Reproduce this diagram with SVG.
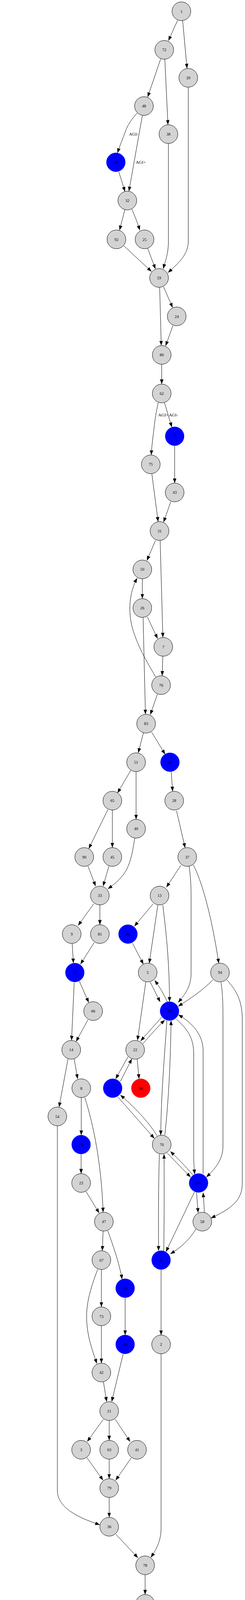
<svg xmlns="http://www.w3.org/2000/svg" width="628" height="6533" viewBox="0 0 628 6533">
<style>
.n circle{fill:#d3d3d3;stroke:#000;stroke-width:1}
.b circle{fill:#0000ff;stroke:#0000ff;stroke-width:1}
.r circle{fill:#ff0000;stroke:#ff0000;stroke-width:1}
text{font-family:"Liberation Serif","Times New Roman",serif;font-size:10.5px;text-anchor:middle;fill:#000}
.lbl{font-size:11px}
.e path{fill:none;stroke:#000;stroke-width:1;marker-end:url(#a)}
</style>
<defs>
<marker id="a" viewBox="0 0 12 9" refX="12" refY="4.5" markerWidth="12" markerHeight="9" markerUnits="userSpaceOnUse" orient="auto"><path d="M0,0L12,4.5L0,9z" fill="#000"/></marker>
</defs>
<rect width="628" height="6533" fill="#fff"/>
<g id="connectors" class="e">
<path d="M455.3,52.1 C447,70 440,86 431.7,104.3"/>
<path d="M468.2,52.8 L479.4,175.2"/>
<path d="M411.7,151.2 L378.5,248.5"/>
<path d="M422.5,151.9 L430.5,319.4"/>
<path d="M351.2,289.5 C338,305 328,318 322,335 C315,355 307,372 301.2,391.7"/>
<path d="M364.8,296.1 L330.4,489.8"/>
<path d="M304.4,439.7 L320.4,490.3"/>
<path d="M320,536.5 L306.4,589.5"/>
<path d="M338,535.5 C344,550 352,568 358.4,589.5"/>
<path d="M482.6,223.2 L482.6,618 C482.6,650 460,672 430.5,697.9"/>
<path d="M431.7,367.4 L431.7,618 C431.7,650 423,670 418.5,688"/>
<path d="M317.6,629.5 L388.5,695.2"/>
<path d="M378.5,636 L398.5,688.5"/>
<path d="M409.3,735.5 L413.3,884.6"/>
<path d="M419.3,734.4 L442.5,787.6"/>
<path d="M443.3,833.5 L424.5,885.5"/>
<path d="M414.5,932.6 L414.5,983.3"/>
<path d="M405.7,1031 C400,1055 397,1075 395,1095 C392,1120 389,1140 387.7,1164.7"/>
<path d="M421.7,1031 L440.5,1093.5"/>
<path d="M447.7,1140.8 L447.7,1236.7"/>
<path d="M389.3,1213.4 L405.3,1335.6"/>
<path d="M437.7,1284.6 L419.3,1336.8"/>
<path d="M398.5,1383.7 L376.5,1435"/>
<path d="M410.5,1383.7 L417.5,1631.9"/>
<path d="M364.8,1481.7 L364.8,1532.5"/>
<path d="M377.7,1579.4 L404,1635"/>
<path d="M366.8,1580.8 L372.8,1828.6"/>
<path d="M399.3,1733.4 C380,1700 355,1660 340,1610 C327,1565 332,1515 351.6,1480"/>
<path d="M417.3,1679.8 L415.7,1729.9"/>
<path d="M403.3,1777.5 L385.3,1829.6"/>
<path d="M367.6,1875.9 L354.4,1927.3"/>
<path d="M388.5,1874.1 L423.3,1931.1"/>
<path d="M335.2,1972.2 L301.2,2030.2"/>
<path d="M348.8,1975.3 L348.8,2097.6"/>
<path d="M438.9,1976.3 L442.5,2025.9"/>
<path d="M276.3,2073 L227.5,2172.5"/>
<path d="M288,2073.7 L288,2169.9"/>
<path d="M345.2,2146 C341,2175 336,2203 325,2225 C314,2246 296,2262 276.3,2275.6"/>
<path d="M452.5,2075.7 L474.5,2170.5"/>
<path d="M225.5,2217.5 L245.1,2268.6"/>
<path d="M279.1,2217.5 L264.3,2268.6"/>
<path d="M463.8,2214.8 L426.5,2271.5"/>
<path d="M484.6,2217.5 C488,2240 489.8,2260 489.8,2300 L489.8,2492 C489.8,2525 475,2545 456.5,2566.5"/>
<path d="M495.4,2214 C520,2260 545,2360 560.7,2466.3"/>
<path d="M240.3,2313.8 L200.2,2369.4"/>
<path d="M256,2316.6 L256,2367.3"/>
<path d="M392.5,2313.8 L344.4,2371.2"/>
<path d="M404.5,2317.3 L382.5,2466.2"/>
<path d="M417.3,2317.3 C428,2400 434.5,2480 434.5,2564.4"/>
<path d="M185,2415.7 L188.2,2465.8"/>
<path d="M241.5,2412.9 L206.2,2468.5"/>
<path d="M339.6,2414.6 L367.6,2468.5"/>
<path d="M203.4,2512 L227.5,2566.5"/>
<path d="M190.2,2515.4 L183.4,2663.5"/>
<path d="M225.1,2611 L195,2666.6"/>
<path d="M385.3,2514.4 L410.5,2565.1"/>
<path d="M429.3,2565.8 C420,2545 410,2528 396.5,2509.5"/>
<path d="M373.6,2514.4 L352.4,2663.3"/>
<path d="M545.5,2508.5 C520,2535 490,2555 456.5,2576.3"/>
<path d="M414.5,2604 L360.4,2664.9"/>
<path d="M366.4,2671.8 C385,2650 405,2628 422.5,2611"/>
<path d="M427.7,2612.7 C422,2700 413,2800 412,2906.1"/>
<path d="M422.5,2905.7 C432,2820 437,2720 438.5,2612.5"/>
<path d="M452.5,2609.3 C480,2635 496.6,2655 496.6,2700 L496.6,2960 C496.6,2980 498,2995 499,3006"/>
<path d="M520.6,3004.8 L520.6,2690 C520.6,2650 495,2620 457,2597.5"/>
<path d="M566.7,2515.4 C570,2540 571.5,2560 571.5,2600 L571.5,2935 C571.5,2965 555,2990 528.6,3013.5"/>
<path d="M581.5,2508.5 C605,2535 621,2560 621,2610 L621,3030 C621,3075 590,3095 540.6,3118.5"/>
<path d="M174.2,2711.3 L151.4,2834.3"/>
<path d="M190.2,2711.3 L199,2762"/>
<path d="M328.4,2705 L296.4,2762"/>
<path d="M308.4,2768.4 C318,2750 328,2730 338,2710.5"/>
<path d="M351.6,2711.4 L356.4,2762"/>
<path d="M302.4,2808.4 L395.7,2914.4"/>
<path d="M402.5,2907.5 C380,2870 340,2830 308.4,2803.2"/>
<path d="M428.5,2951.6 L488.6,3013.5"/>
<path d="M494.6,3008.3 C475,2985 455,2965 436.5,2947.5"/>
<path d="M408.5,2954.4 C406,3040 406,3120 406.5,3202"/>
<path d="M419.7,3203 C421,3120 421,3040 420.5,2954.4"/>
<path d="M503.8,3052.5 L507.8,3104.6"/>
<path d="M523.8,3104.6 C523,3085 522,3070 520.6,3053"/>
<path d="M498.6,3051 L425.3,3204.7"/>
<path d="M502.6,3145.6 C485,3175 462,3195 436.5,3209.9"/>
<path d="M208.3,2809.8 L208.3,2906.1"/>
<path d="M217.5,2810.2 C240,2880 260,2980 264.3,3103.5"/>
<path d="M207.9,2954.1 L207.9,3004.4"/>
<path d="M220.3,3050 L254.3,3105.6"/>
<path d="M264.3,3151.5 L262.3,3201.9"/>
<path d="M276.3,3150.8 C290,3190 305,3230 313,3275"/>
<path d="M259.9,3249.9 L259.9,3345.8"/>
<path d="M250.3,3249.9 C235,3290 222,3330 222,3370 C222,3420 238,3460 248.3,3490.7"/>
<path d="M320.8,3321.8 L320.8,3417.7"/>
<path d="M259.9,3393.8 L259.9,3489.7"/>
<path d="M315.6,3466.4 L286.3,3588.3"/>
<path d="M265.1,3537.5 L273.5,3588.4"/>
<path d="M412.9,3249.9 L412.9,3417.7"/>
<path d="M265.1,3633.2 L223.5,3690.6"/>
<path d="M279.9,3636.4 L279.9,3687.4"/>
<path d="M295.2,3633.2 L333.6,3690.6"/>
<path d="M222.7,3731.6 L264.3,3789.6"/>
<path d="M279.9,3735.4 L279.9,3785.5"/>
<path d="M336.4,3732.3 L296.4,3789.6"/>
<path d="M147,2882.1 L147,3815 C147,3860 200,3885 256,3903.5"/>
<path d="M279.9,3833.5 L279.9,3884.5"/>
<path d="M412.9,3465.7 L412.9,3912 C412.9,3945 400,3968 386.5,3987"/>
<path d="M297.2,3928 L353.6,3988.1"/>
<path d="M372,4031.2 L372,4081.9"/>
<path d="M361.2,4129.6 L340.4,4181.7"/>
<path d="M375.3,4130 C377,4190 375,4240 358.4,4282.5"/>
<path d="M314.4,4227.9 L285.1,4281.4"/>
<path d="M323.6,4228.6 L330.4,4280.5"/>
<path d="M346.4,4280 C345,4262 343,4245 340.4,4228"/>
<path d="M258.3,4326.6 L232.3,4379.6"/>
<path d="M274.7,4327.7 C279,4360 280.3,4380 280.3,4420 L280.3,4890 C280.3,4930 255,4958 226.3,4980.8"/>
<path d="M342.4,4327.7 L342.4,5455.5"/>
<path d="M208.3,4424.3 C200,4445 190,4462 182.2,4480"/>
<path d="M223.5,4426 C228,4450 230.3,4470 230.3,4500 L230.3,4905 C230.3,4930 224,4950 216.3,4970"/>
<path d="M169,4524.8 L169,4575.5"/>
<path d="M169,4623.5 L169,4673.5"/>
<path d="M157.4,4721.5 C150,4740 140,4758 130.2,4775.4"/>
<path d="M172.2,4722.2 C180,4800 192,4900 201,4970"/>
<path d="M118.5,4820.6 L118.5,4871.3"/>
<path d="M135.4,4914.7 L189,4975.5"/>
<path d="M187.4,5012.8 C165,5035 145,5055 124.1,5074.6"/>
<path d="M209,5018 L226.3,5140.6"/>
<path d="M90.1,5113.5 C78,5135 68,5155 60,5175 C52,5192 46,5203 40,5213.7"/>
<path d="M99.3,5117 L68.9,5285.2"/>
<path d="M114.1,5117 L143.4,5213.7"/>
<path d="M143,5259.5 L112.9,5357.9"/>
<path d="M156.2,5261.3 L171.4,5357"/>
<path d="M61.3,5333.2 C61,5375 62,5400 75,5420 C85,5438 98,5452 111.3,5463.2"/>
<path d="M112.1,5405.5 L125,5456"/>
<path d="M165,5403.8 L139.4,5455.8"/>
<path d="M233.5,5189.3 C237,5260 238.7,5320 238.7,5400 L238.7,5480 C238.7,5515 210,5545 172.5,5567"/>
<path d="M134.6,5503.9 L144.2,5554.4"/>
<path d="M143,5602.9 C138,5620 134,5640 131.4,5663.8"/>
<path d="M159,5601.2 C168,5620 178,5643 186.2,5665.5"/>
<path d="M336.4,5503.9 L327.6,5554.3"/>
<path d="M351.2,5502.8 C365,5560 372,5610 370,5660 C367,5710 340,5745 304.4,5772.6"/>
<path d="M308.8,5600.2 C295,5635 285,5660 283,5690 C281,5715 281.3,5740 281.5,5762"/>
<path d="M320.8,5601.9 L320.8,5663.7"/>
<path d="M312.4,5711.4 L295.6,5762.8"/>
<path d="M215.5,5706.5 L267.5,5767"/>
<path d="M284,5809.8 L284,5860.5"/>
<path d="M284,5908.5 L284,5958.8"/>
<path d="M284,6006.8 L284,6057.8"/>
<path d="M292.4,6105.5 L315.6,6168.3"/>
<path d="M280.7,6106.5 C277,6160 275,6210 278,6260 C281,6310 295,6345 311.2,6379.3"/>
<path d="M323.6,6215.3 L323.6,6276.8"/>
<path d="M336.4,6214 C350,6250 362,6280 362,6310 C362,6340 350,6360 340.4,6378.7"/>
<path d="M323.6,6324.8 L323.6,6375.3"/>
<path d="M323.6,6423.3 L323.6,6475.5"/>
</g>
<g id="edge-labels">
<text class="lbl" x="342.4" y="347">AGI-</text>
<text class="lbl" x="360.8" y="419">AGI+</text>
<text class="lbl" x="418.5" y="1065.5">AGI+</text>
<text class="lbl" x="444.5" y="1065.5">AGI-</text>
<text class="lbl" x="152.6" y="5636">AGI-</text>
<text class="lbl" x="191" y="5636">AGI+</text>
<text class="lbl" x="318.4" y="6140.5">AGI-</text>
<text class="lbl" x="292" y="6249.5">AGI+</text>
</g>
<g id="n1" class="n"><circle cx="465" cy="28.8" r="24"/><text x="465" y="32.5">1</text></g>
<g id="n72" class="n"><circle cx="421" cy="127.6" r="24"/><text x="421" y="131.3">72</text></g>
<g id="n39" class="n"><circle cx="482.6" cy="199.2" r="24"/><text x="482.6" y="202.9">39</text></g>
<g id="n48" class="n"><circle cx="369" cy="271.5" r="24"/><text x="369" y="275.2">48</text></g>
<g id="n38" class="n"><circle cx="431.7" cy="343.4" r="24"/><text x="431.7" y="347.1">38</text></g>
<g id="n18" class="b"><circle cx="297" cy="415.4" r="24"/><text x="297" y="419.1">18</text></g>
<g id="n32" class="n"><circle cx="326.4" cy="513.4" r="24"/><text x="326.4" y="517.1">32</text></g>
<g id="n92" class="n"><circle cx="298.4" cy="612.8" r="24"/><text x="298.4" y="616.5">92</text></g>
<g id="n25" class="n"><circle cx="370.5" cy="612.8" r="24"/><text x="370.5" y="616.5">25</text></g>
<g id="n59" class="n"><circle cx="407.7" cy="711.5" r="24"/><text x="407.7" y="715.2">59</text></g>
<g id="n24" class="n"><circle cx="453" cy="809.9" r="24"/><text x="453" y="813.6">24</text></g>
<g id="n86" class="n"><circle cx="414.5" cy="908.6" r="24"/><text x="414.5" y="912.3">86</text></g>
<g id="n62" class="n"><circle cx="414.5" cy="1007.3" r="24"/><text x="414.5" y="1011">62</text></g>
<g id="n15" class="b"><circle cx="447.7" cy="1116.8" r="24"/><text x="447.7" y="1120.5">15</text></g>
<g id="n75" class="n"><circle cx="386.5" cy="1188.7" r="24"/><text x="386.5" y="1192.4">75</text></g>
<g id="n43" class="n"><circle cx="447.7" cy="1260.7" r="24"/><text x="447.7" y="1264.4">43</text></g>
<g id="n31" class="n"><circle cx="408.9" cy="1359.4" r="24"/><text x="408.9" y="1363.1">31</text></g>
<g id="n50" class="n"><circle cx="364.8" cy="1457.7" r="24"/><text x="364.8" y="1461.4">50</text></g>
<g id="n26" class="n"><circle cx="364.8" cy="1556.5" r="24"/><text x="364.8" y="1560.2">26</text></g>
<g id="n7" class="n"><circle cx="418.5" cy="1655.9" r="24"/><text x="418.5" y="1659.6">7</text></g>
<g id="n76" class="n"><circle cx="412.9" cy="1753.9" r="24"/><text x="412.9" y="1757.6">76</text></g>
<g id="n83" class="n"><circle cx="374.5" cy="1852.6" r="24"/><text x="374.5" y="1856.3">83</text></g>
<g id="n51" class="n"><circle cx="348.8" cy="1951.3" r="24"/><text x="348.8" y="1955">51</text></g>
<g id="n60" class="b"><circle cx="435.7" cy="1951.3" r="24"/><text x="435.7" y="1955">60</text></g>
<g id="n65" class="n"><circle cx="288" cy="2049.7" r="24"/><text x="288" y="2053.4">65</text></g>
<g id="n28" class="n"><circle cx="446.5" cy="2049.7" r="24"/><text x="446.5" y="2053.4">28</text></g>
<g id="n40" class="n"><circle cx="348.8" cy="2121.6" r="24"/><text x="348.8" y="2125.3">40</text></g>
<g id="n90" class="n"><circle cx="215.9" cy="2193.9" r="24"/><text x="215.9" y="2197.6">90</text></g>
<g id="n45" class="n"><circle cx="288" cy="2193.9" r="24"/><text x="288" y="2197.6">45</text></g>
<g id="n37" class="n"><circle cx="480" cy="2193.9" r="24"/><text x="480" y="2197.6">37</text></g>
<g id="n33" class="n"><circle cx="256" cy="2292.6" r="24"/><text x="256" y="2296.3">33</text></g>
<g id="n13" class="n"><circle cx="408.9" cy="2292.6" r="24"/><text x="408.9" y="2296.3">13</text></g>
<g id="n9" class="n"><circle cx="183.8" cy="2391.3" r="24"/><text x="183.8" y="2395">9</text></g>
<g id="n81" class="n"><circle cx="256" cy="2391.3" r="24"/><text x="256" y="2395">81</text></g>
<g id="n82" class="b"><circle cx="328" cy="2391.3" r="24"/><text x="328" y="2395">82</text></g>
<g id="n57" class="b"><circle cx="191.8" cy="2489.7" r="24"/><text x="191.8" y="2493.4">57</text></g>
<g id="n5" class="n"><circle cx="378.5" cy="2489.7" r="24"/><text x="378.5" y="2493.4">5</text></g>
<g id="n94" class="n"><circle cx="563.9" cy="2489.7" r="24"/><text x="563.9" y="2493.4">94</text></g>
<g id="n66" class="n"><circle cx="238.7" cy="2588.4" r="24"/><text x="238.7" y="2592.1">66</text></g>
<g id="n44" class="b"><circle cx="434.5" cy="2588.4" r="24"/><text x="434.5" y="2592.1">44</text></g>
<g id="n14" class="n"><circle cx="182.6" cy="2687.5" r="24"/><text x="182.6" y="2691.2">14</text></g>
<g id="n22" class="n"><circle cx="346.4" cy="2687.5" r="24"/><text x="346.4" y="2691.2">22</text></g>
<g id="n8" class="n"><circle cx="208.3" cy="2785.8" r="24"/><text x="208.3" y="2789.5">8</text></g>
<g id="n77" class="b"><circle cx="288.8" cy="2785.8" r="24"/><text x="288.8" y="2789.5">77</text></g>
<g id="n96" class="r"><circle cx="360.9" cy="2785.8" r="24"/><text x="360.9" y="2789.5">96</text></g>
<g id="n54" class="n"><circle cx="147" cy="2858.1" r="24"/><text x="147" y="2861.8">54</text></g>
<g id="n74" class="b"><circle cx="207.9" cy="2930.1" r="24"/><text x="207.9" y="2933.8">74</text></g>
<g id="n70" class="n"><circle cx="414.5" cy="2930.1" r="24"/><text x="414.5" y="2933.8">70</text></g>
<g id="n23" class="n"><circle cx="207.9" cy="3028.4" r="24"/><text x="207.9" y="3032.1">23</text></g>
<g id="n84" class="b"><circle cx="509" cy="3028.4" r="24"/><text x="509" y="3032.1">84</text></g>
<g id="n47" class="n"><circle cx="266.3" cy="3127.5" r="24"/><text x="266.3" y="3131.2">47</text></g>
<g id="n58" class="n"><circle cx="518.6" cy="3127.5" r="24"/><text x="518.6" y="3131.2">58</text></g>
<g id="n67" class="n"><circle cx="259.9" cy="3225.9" r="24"/><text x="259.9" y="3229.6">67</text></g>
<g id="n27" class="b"><circle cx="412.9" cy="3225.9" r="24"/><text x="412.9" y="3229.6">27</text></g>
<g id="n93" class="b"><circle cx="320.8" cy="3297.8" r="24"/><text x="320.8" y="3301.5">93</text></g>
<g id="n73" class="n"><circle cx="259.9" cy="3369.8" r="24"/><text x="259.9" y="3373.5">73</text></g>
<g id="n69" class="b"><circle cx="320.8" cy="3441.7" r="24"/><text x="320.8" y="3445.4">69</text></g>
<g id="n2" class="n"><circle cx="412.9" cy="3441.7" r="24"/><text x="412.9" y="3445.4">2</text></g>
<g id="n42" class="n"><circle cx="259.9" cy="3513.7" r="24"/><text x="259.9" y="3517.4">42</text></g>
<g id="n21" class="n"><circle cx="279.9" cy="3612.4" r="24"/><text x="279.9" y="3616.1">21</text></g>
<g id="n3" class="n"><circle cx="207.9" cy="3711.4" r="24"/><text x="207.9" y="3715.1">3</text></g>
<g id="n63" class="n"><circle cx="279.9" cy="3711.4" r="24"/><text x="279.9" y="3715.1">63</text></g>
<g id="n41" class="n"><circle cx="351.2" cy="3711.4" r="24"/><text x="351.2" y="3715.1">41</text></g>
<g id="n79" class="n"><circle cx="279.9" cy="3809.5" r="24"/><text x="279.9" y="3813.2">79</text></g>
<g id="n36" class="n"><circle cx="279.9" cy="3908.5" r="24"/><text x="279.9" y="3912.2">36</text></g>
<g id="n78" class="n"><circle cx="372" cy="4007.2" r="24"/><text x="372" y="4010.9">78</text></g>
<g id="n85" class="n"><circle cx="372" cy="4105.9" r="24"/><text x="372" y="4109.6">85</text></g>
<g id="n34" class="n"><circle cx="328" cy="4204.6" r="24"/><text x="328" y="4208.3">34</text></g>
<g id="n80" class="n"><circle cx="270.3" cy="4303.7" r="24"/><text x="270.3" y="4307.4">80</text></g>
<g id="n55" class="n"><circle cx="342.4" cy="4303.7" r="24"/><text x="342.4" y="4307.4">55</text></g>
<g id="n68" class="n"><circle cx="219.9" cy="4401.7" r="24"/><text x="219.9" y="4405.4">68</text></g>
<g id="n61" class="b"><circle cx="169" cy="4500.8" r="24"/><text x="169" y="4504.5">61</text></g>
<g id="n89" class="n"><circle cx="169" cy="4599.5" r="24"/><text x="169" y="4603.2">89</text></g>
<g id="n56" class="n"><circle cx="169" cy="4697.5" r="24"/><text x="169" y="4701.2">56</text></g>
<g id="n95" class="b"><circle cx="118.5" cy="4796.6" r="24"/><text x="118.5" y="4800.3">95</text></g>
<g id="n19" class="n"><circle cx="118.5" cy="4895.3" r="24"/><text x="118.5" y="4899">19</text></g>
<g id="n49" class="n"><circle cx="205" cy="4994" r="24"/><text x="205" y="4997.7">49</text></g>
<g id="n88" class="n"><circle cx="104.9" cy="5092.7" r="24"/><text x="104.9" y="5096.4">88</text></g>
<g id="n97" class="n"><circle cx="230.3" cy="5164.6" r="24"/><text x="230.3" y="5168.3">97</text></g>
<g id="n99" class="r"><circle cx="28.8" cy="5236.9" r="24"/><text x="28.8" y="5240.6">99</text></g>
<g id="n10" class="n"><circle cx="151.8" cy="5236.9" r="24"/><text x="151.8" y="5240.6">10</text></g>
<g id="n4" class="n"><circle cx="62.5" cy="5308.9" r="24"/><text x="62.5" y="5312.6">4</text></g>
<g id="n98" class="n"><circle cx="104.9" cy="5380.8" r="24"/><text x="104.9" y="5384.5">98</text></g>
<g id="n35" class="n"><circle cx="177" cy="5380.8" r="24"/><text x="177" y="5384.5">35</text></g>
<g id="n29" class="n"><circle cx="130.6" cy="5479.5" r="24"/><text x="130.6" y="5483.2">29</text></g>
<g id="n20" class="n"><circle cx="342.4" cy="5479.5" r="24"/><text x="342.4" y="5483.2">20</text></g>
<g id="n87" class="n"><circle cx="149" cy="5577.9" r="24"/><text x="149" y="5581.6">87</text></g>
<g id="n71" class="n"><circle cx="320.8" cy="5577.9" r="24"/><text x="320.8" y="5581.6">71</text></g>
<g id="n53" class="r"><circle cx="126.6" cy="5687.7" r="24"/><text x="126.6" y="5691.4">53</text></g>
<g id="n12" class="n"><circle cx="198.6" cy="5687.7" r="24"/><text x="198.6" y="5691.4">12</text></g>
<g id="n91" class="n"><circle cx="320.8" cy="5687.7" r="24"/><text x="320.8" y="5691.4">91</text></g>
<g id="n30" class="n"><circle cx="284" cy="5785.8" r="24"/><text x="284" y="5789.5">30</text></g>
<g id="n64" class="n"><circle cx="284" cy="5884.5" r="24"/><text x="284" y="5888.2">64</text></g>
<g id="n6" class="b"><circle cx="284" cy="5982.8" r="24"/><text x="284" y="5986.5">6</text></g>
<g id="n17" class="n"><circle cx="284" cy="6081.8" r="24"/><text x="284" y="6085.5">17</text></g>
<g id="n11" class="n"><circle cx="323.6" cy="6191.3" r="24"/><text x="323.6" y="6195">11</text></g>
<g id="n46" class="n"><circle cx="323.6" cy="6300.8" r="24"/><text x="323.6" y="6304.5">46</text></g>
<g id="n52" class="b"><circle cx="323.6" cy="6399.3" r="24"/><text x="323.6" y="6403">52</text></g>
<g id="n100" class="n"><circle cx="324.4" cy="6500.5" r="25"/><text x="324.4" y="6504.2">100</text></g>
</svg>
